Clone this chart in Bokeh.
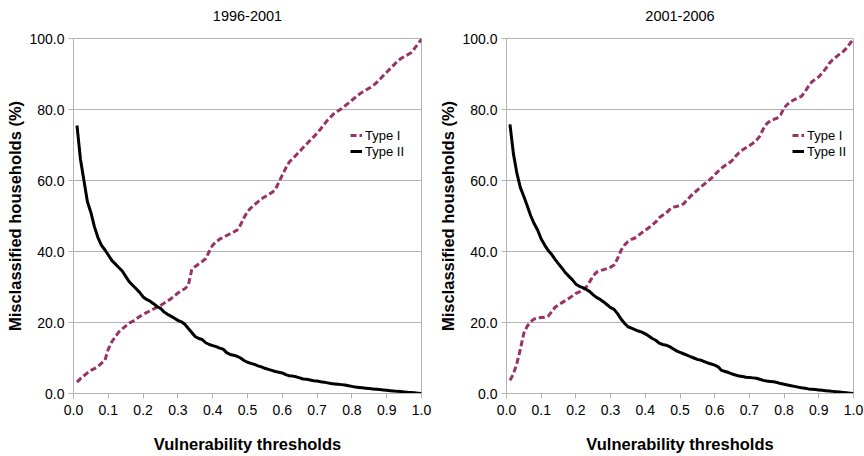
import numpy as np
from bokeh.plotting import figure
from bokeh.layouts import row
from bokeh.models import Legend, LegendItem, NumeralTickFormatter, FixedTicker, Range1d, Title
from bokeh.embed import file_html
from bokeh.resources import INLINE

thresholds = [round(0.01 * i, 2) for i in range(1, 101)]

titles = ["1996-2001", "2001-2006"]
series_names = ["Type I", "Type II"]
x_ticks = [0.0, 0.1, 0.2, 0.3, 0.4, 0.5, 0.6, 0.7, 0.8, 0.9, 1.0]
y_ticks = [0, 20, 40, 60, 80, 100]

type1_9601 = [3.2, 4.2, 5.0, 5.8, 6.5, 7.0, 7.6, 8.5, 9.3, 12.5,
              14.5, 16.0, 17.3, 18.2, 19.0, 19.8, 20.3, 21.0, 21.7, 22.3,
              22.8, 23.3, 23.8, 24.3, 24.8, 25.4, 26.0, 26.7, 27.5, 28.3,
              29.0, 29.5, 30.5, 35.0, 35.8, 36.5, 37.2, 38.0, 40.0, 41.8,
              42.7, 43.5, 44.0, 44.5, 45.0, 45.5, 46.0, 47.5, 49.5, 51.3,
              52.3, 53.2, 54.0, 54.8, 55.4, 56.0, 56.6, 57.5, 59.5, 61.5,
              63.5, 65.2, 66.2, 67.2, 68.2, 69.3, 70.3, 71.3, 72.3, 73.3,
              74.5, 75.8, 77.0, 78.0, 79.0, 79.6, 80.2, 81.0, 81.8, 82.6,
              83.4, 84.2, 84.9, 85.5, 86.0, 86.6, 87.5, 88.5, 89.5, 90.5,
              91.5, 92.5, 93.5, 94.3, 94.9, 95.4, 96.0, 97.2, 98.5, 99.8]

type2_9601 = [75.5, 66.0, 60.0, 54.0, 51.0, 47.0, 44.0, 41.8, 40.5, 39.0,
              37.5, 36.5, 35.5, 34.5, 33.0, 31.5, 30.5, 29.5, 28.5, 27.2,
              26.5, 26.0, 25.3, 24.5, 24.0, 23.0, 22.3, 21.8, 21.2, 20.6,
              20.2, 19.5, 18.3, 17.2, 16.0, 15.5, 15.2, 14.3, 13.8, 13.5,
              13.2, 12.8, 12.5, 11.5, 11.0, 10.8, 10.5, 10.0, 9.3, 8.8,
              8.5, 8.2, 7.8, 7.5, 7.1, 6.8, 6.5, 6.2, 6.0, 5.8,
              5.3, 5.0, 4.9, 4.7, 4.4, 4.1, 4.0, 3.8, 3.6, 3.5,
              3.3, 3.2, 3.0, 2.8, 2.7, 2.6, 2.5, 2.4, 2.2, 2.0,
              1.8, 1.7, 1.6, 1.5, 1.4, 1.3, 1.2, 1.1, 1.0, 0.9,
              0.8, 0.7, 0.6, 0.55, 0.45, 0.35, 0.3, 0.2, 0.1, 0.0]

type1_0106 = [3.7, 5.5, 8.5, 12.5, 17.0, 19.0, 20.2, 21.0, 21.3, 21.4,
              21.5, 21.8, 23.0, 24.3, 25.0, 25.6, 26.2, 26.8, 27.5, 28.2,
              28.6, 29.2, 30.0, 31.5, 33.2, 34.2, 34.6, 34.9, 35.2, 35.6,
              36.2, 38.0, 40.3, 41.8, 42.8, 43.4, 43.8, 44.5, 45.3, 46.0,
              46.7, 47.5, 48.3, 49.5, 50.2, 50.8, 51.8, 52.5, 52.7, 52.9,
              53.4, 54.5, 55.5, 56.4, 57.3, 58.2, 59.0, 59.8, 60.6, 61.6,
              62.6, 63.5, 64.2, 64.8, 65.6, 66.8, 67.8, 68.6, 69.2, 69.8,
              70.5, 71.3, 72.5, 74.5, 76.0, 76.8, 77.2, 77.6, 78.5, 80.5,
              81.5, 82.3, 82.8, 83.3, 83.7, 85.0, 86.5, 87.8, 88.5, 89.2,
              90.3, 91.5, 93.0, 94.0, 94.8, 95.6, 96.3, 97.3, 98.6, 99.9]

type2_0106 = [75.8, 67.5, 62.0, 58.0, 55.5, 52.8, 50.0, 47.8, 46.0, 43.5,
              41.8, 40.3, 39.2, 37.8, 36.5, 35.3, 34.0, 33.0, 32.0, 30.8,
              30.2, 29.8, 29.3, 28.7, 27.8, 27.0, 26.5, 25.8, 25.0, 24.2,
              23.7, 22.5, 21.0, 19.8, 18.8, 18.4, 18.0, 17.6, 17.3, 16.8,
              16.2, 15.5, 15.0, 14.2, 13.8, 13.6, 13.2, 12.6, 12.0, 11.6,
              11.2, 10.8, 10.4, 10.0, 9.6, 9.4, 9.0, 8.6, 8.3, 8.0,
              7.5, 6.5, 6.2, 5.9, 5.5, 5.2, 4.9, 4.8, 4.6, 4.5,
              4.4, 4.3, 4.0, 3.7, 3.5, 3.4, 3.3, 3.1, 2.8, 2.6,
              2.4, 2.2, 2.0, 1.8, 1.6, 1.5, 1.3, 1.2, 1.1, 1.0,
              0.9, 0.8, 0.7, 0.6, 0.5, 0.4, 0.3, 0.2, 0.1, 0.0]

FONT = "Liberation Sans"
GRID = "#b3b3b3"
PURPLE = "#993366"


def make_panel(title, t1, t2, left_border, legend_loc):
    p = figure(width=432, height=456, output_backend="svg", toolbar_location=None,
               x_range=Range1d(0, 1), y_range=Range1d(0, 100),
               min_border_left=left_border, min_border_right=11,
               min_border_top=38, min_border_bottom=63)
    p.title.text = title
    p.title.align = "center"
    p.title.text_font = FONT
    p.title.text_font_style = "normal"
    p.title.text_font_size = "14.5px"
    p.title.text_color = "#000000"
    # spacer between the title and the frame
    p.add_layout(Title(text=" ", text_font_size="10px", standoff=0), "above")

    p.outline_line_color = GRID
    p.background_fill_color = "white"
    p.border_fill_color = "white"

    p.xgrid.visible = False
    p.ygrid.grid_line_color = GRID
    p.ygrid.ticker = FixedTicker(ticks=y_ticks)

    p.xaxis.ticker = FixedTicker(ticks=x_ticks)
    p.yaxis.ticker = FixedTicker(ticks=y_ticks)
    p.xaxis.formatter = NumeralTickFormatter(format="0.0")
    p.yaxis.formatter = NumeralTickFormatter(format="0.0")
    for ax in (p.xaxis, p.yaxis):
        ax.axis_line_color = GRID
        ax.major_tick_line_color = GRID
        ax.minor_tick_line_color = None
        ax.major_tick_in = 0
        ax.major_tick_out = 5
        ax.major_label_text_font = FONT
        ax.major_label_text_font_size = "14px"
        ax.major_label_text_color = "#000000"
        ax.axis_label_text_font = FONT
        ax.axis_label_text_font_size = "16.5px"
        ax.axis_label_text_font_style = "bold"
        ax.axis_label_text_color = "#000000"
    p.xaxis.axis_label = "Vulnerability thresholds"
    p.yaxis.axis_label = "Misclassified households (%)"
    p.xaxis.major_label_standoff = 6
    p.xaxis.axis_label_standoff = 17
    p.yaxis.major_label_standoff = 4
    p.yaxis.axis_label_standoff = 2

    r1 = p.line(thresholds, t1, line_color=PURPLE, line_width=3, line_dash="6 3")
    r2 = p.line(thresholds, t2, line_color="black", line_width=3)

    legend = Legend(items=[LegendItem(label=series_names[0], renderers=[r1]),
                           LegendItem(label=series_names[1], renderers=[r2])],
                    location=legend_loc, orientation="vertical")
    legend.background_fill_alpha = 0
    legend.border_line_alpha = 0
    legend.padding = 0
    legend.margin = 0
    legend.spacing = 0
    legend.glyph_width = 12
    legend.glyph_height = 16
    legend.label_height = 16
    legend.label_standoff = 3
    legend.label_text_font = FONT
    legend.label_text_font_size = "13px"
    legend.label_text_color = "#000000"
    p.add_layout(legend, "center")
    return p


p1 = make_panel(titles[0], type1_9601, type2_9601, 73, (277, 234))
p2 = make_panel(titles[1], type1_0106, type2_0106, 74, (286, 234))

layout = row(p1, p2)
open("out.html", "w").write(file_html(layout, INLINE))
